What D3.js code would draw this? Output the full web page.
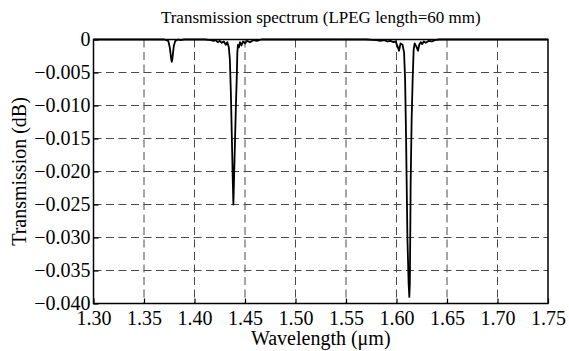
<!DOCTYPE html>
<html>
<head>
<meta charset="utf-8">
<script src="https://cdn.jsdelivr.net/npm/d3@7"></script>
<style>
    body { margin: 0; background: #fff; }
</style>
</head>
<body>
<div id="chart"></div>
<script>
// wavelength (um) and transmission (dB)
const wavelength = [
    1.300, 1.340, 1.370, 1.3740, 1.3755, 1.3770, 1.3775, 1.3780, 1.3795, 1.3810,
    1.384, 1.386, 1.390, 1.410, 1.416, 1.419, 1.421, 1.423, 1.425, 1.427,
    1.429, 1.431, 1.4325, 1.4340, 1.4350, 1.4360, 1.4370, 1.4380, 1.4385, 1.4390,
    1.4400, 1.4410, 1.4418, 1.4424, 1.4430, 1.4440, 1.4450, 1.4465, 1.448, 1.450,
    1.452, 1.455, 1.458, 1.462, 1.466, 1.570, 1.580, 1.584, 1.588, 1.591,
    1.594, 1.597, 1.599, 1.601, 1.6025, 1.6040, 1.6060, 1.6075, 1.6085, 1.6095,
    1.6100, 1.6108, 1.6120, 1.6127, 1.6132, 1.6136, 1.6140, 1.6150, 1.6160, 1.6170,
    1.6180, 1.6195, 1.6213, 1.6225, 1.6240, 1.6255, 1.627, 1.629, 1.632, 1.635,
    1.638, 1.642, 1.750
];
const transmission = [
    0, 0, 0, -0.0002, -0.0012, -0.0030, -0.0034, -0.0030, -0.0010, -0.0002,
    0, -0.0001, 0, 0, -0.0001, -0.0002, -0.0001, -0.0004, -0.0002, -0.0005,
    -0.0003, -0.0008, -0.0004, -0.0012, -0.0030, -0.0080, -0.0150, -0.0220, -0.0250, -0.0220,
    -0.0160, -0.0100, -0.0060, -0.0020, -0.0008, -0.0012, -0.0004, -0.0009, -0.0003, -0.0006,
    -0.0002, -0.0004, -0.0001, -0.0002, 0, 0, -0.0001, -0.0002, -0.0001, -0.0003,
    -0.0002, -0.0004, -0.0003, -0.0010, -0.0017, -0.0006, -0.0008, -0.0020, -0.0060, -0.0150,
    -0.0210, -0.0300, -0.0370, -0.0390, -0.0370, -0.0300, -0.0220, -0.0120, -0.0060, -0.0015,
    -0.0006, -0.0010, -0.0017, -0.0008, -0.0004, -0.0007, -0.0003, -0.0005, -0.0002, -0.0003,
    -0.0001, 0, 0
];
const xTicks = [1.30, 1.35, 1.40, 1.45, 1.50, 1.55, 1.60, 1.65, 1.70, 1.75];
const yTicks = [0, -0.005, -0.010, -0.015, -0.020, -0.025, -0.030, -0.035, -0.040];

const title = "Transmission spectrum (LPEG length=60 mm)";
const xLabel = "Wavelength (\u03bcm)";
const yLabel = "Transmission (dB)";

const FONT = '"Liberation Serif", "Times New Roman", serif';
const W = 569, H = 351;
const margin = { top: 39.5, right: 21, bottom: 47.5, left: 93.5 };
const width = W - margin.left - margin.right;
const height = H - margin.top - margin.bottom;

const svg = d3.select("#chart").append("svg")
    .attr("width", W)
    .attr("height", H)
    .style("font-family", FONT);

const g = svg.append("g")
    .attr("transform", `translate(${margin.left},${margin.top})`);

const x = d3.scaleLinear().domain([1.30, 1.75]).range([0, width]);
const y = d3.scaleLinear().domain([-0.040, 0]).range([height, 0]);

// dashed grid
g.append("g").selectAll("line")
    .data(xTicks.slice(1, -1))
    .join("line")
    .attr("x1", d => x(d)).attr("x2", d => x(d))
    .attr("y1", 0).attr("y2", height)
    .attr("stroke", "#4a4a4a")
    .attr("stroke-width", 1)
    .attr("stroke-dasharray", "8,4.5");

g.append("g").selectAll("line")
    .data(yTicks.slice(1, -1))
    .join("line")
    .attr("x1", 0).attr("x2", width)
    .attr("y1", d => y(d)).attr("y2", d => y(d))
    .attr("stroke", "#4a4a4a")
    .attr("stroke-width", 1)
    .attr("stroke-dasharray", "8,4.5");

// axes with inward ticks
const fmtY = d => d === 0 ? "0" : d3.format(".3f")(d);
const xAxis = g.append("g")
    .attr("transform", `translate(0,${height})`)
    .call(d3.axisBottom(x).tickValues(xTicks).tickFormat(d3.format(".2f")).tickSizeInner(-5).tickSizeOuter(0).tickPadding(7));
const yAxis = g.append("g")
    .call(d3.axisLeft(y).tickValues(yTicks).tickFormat(fmtY).tickSizeInner(-5).tickSizeOuter(0).tickPadding(3));

[xAxis, yAxis].forEach(a => {
    a.attr("font-family", null).attr("font-size", null);
    a.select(".domain").remove();
    a.selectAll(".tick line").attr("stroke", "#000").attr("stroke-width", 1.2);
    a.selectAll(".tick text")
        .attr("fill", "#000")
        .style("font-family", FONT)
        .style("font-size", "20px");
});

// spectrum
const points = wavelength.map((w, i) => [w, transmission[i]]);
const line = d3.line()
    .x(d => x(d[0]))
    .y(d => y(d[1]));

g.append("path")
    .datum(points)
    .attr("fill", "none")
    .attr("stroke", "#000")
    .attr("stroke-width", 1.8)
    .attr("stroke-linejoin", "round")
    .attr("d", line);

// frame
g.append("rect")
    .attr("x", 0).attr("y", 0)
    .attr("width", width).attr("height", height)
    .attr("fill", "none")
    .attr("stroke", "#000")
    .attr("stroke-width", 1.5);

// titles
svg.append("text")
    .attr("x", margin.left + width / 2)
    .attr("y", 23)
    .attr("text-anchor", "middle")
    .style("font-size", "17px")
    .text(title);

svg.append("text")
    .attr("x", margin.left + width / 2)
    .attr("y", 345)
    .attr("text-anchor", "middle")
    .style("font-size", "20px")
    .text(xLabel);

svg.append("text")
    .attr("transform", `translate(26,${margin.top + height / 2}) rotate(-90)`)
    .attr("text-anchor", "middle")
    .style("font-size", "20px")
    .text(yLabel);
</script>
</body>
</html>
